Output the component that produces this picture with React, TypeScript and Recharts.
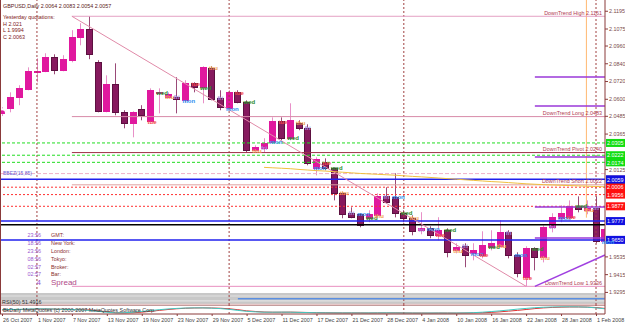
import React from 'react';
import { ComposedChart, Bar, Line, XAxis, YAxis, ReferenceLine, ReferenceArea, LabelList } from 'recharts';

// bar index of each date label on the time axis
const tickBars = [0, 4, 8, 12, 16, 20, 24, 28, 32, 36, 40, 44, 48, 52, 56, 60, 64, 68];
const tickLabels = [
  '26 Oct 2007', '1 Nov 2007', '7 Nov 2007', '13 Nov 2007', '19 Nov 2007', '23 Nov 2007',
  '29 Nov 2007', '5 Dec 2007', '11 Dec 2007', '17 Dec 2007', '21 Dec 2007', '28 Dec 2007',
  '4 Jan 2008', '10 Jan 2008', '16 Jan 2008', '22 Jan 2008', '28 Jan 2008', '1 Feb 2008',
];
// month separators (bar index)
const periodBars = [4, 26, 46, 68];

// weekday tag printed at each bar's open (first bars carry none)
const dayTags = [
  '', '', '', '', '', '', '', '', '', '',
  '', '', '', '', '', '', '', 'tue', 'wed', 'thu',
  'fri', 'mon', 'tue', 'wed', 'thu', 'fri', 'mon', 'tue', 'wed', 'thu',
  'fri', 'mon', 'tue', 'wed', 'thu', 'fri', 'mon', 'tue', 'wed', 'thu',
  'fri', 'mon', 'wed', 'thu', 'fri', 'mon', 'wed', 'thu', 'fri', 'mon',
  'tue', 'wed', 'thu', 'fri', 'mon', 'tue', 'wed', 'thu', 'fri', 'mon',
  'tue', 'wed', 'thu', 'fri', 'mon', 'tue', 'wed', 'thu', 'fri', 'mon',
];

const opens = [
  2.0505, 2.0539, 2.0614, 2.0668, 2.0786, 2.0789, 2.0884, 2.0796, 2.0864, 2.1019,
  2.1073, 2.0850, 2.0519, 2.0702, 2.0512, 2.0438, 2.0533, 2.0451, 2.0647, 2.0614,
  2.0614, 2.0593, 2.0708, 2.0681, 2.0810, 2.0607, 2.0539, 2.0647, 2.0580, 2.0255,
  2.0269, 2.0310, 2.0451, 2.0337, 2.0438, 2.0404, 2.0134, 2.0174, 2.0134, 1.9965,
  1.9830, 1.9823, 1.9796, 1.9816, 1.9944, 1.9938, 1.9830, 1.9796, 1.9715, 1.9728,
  1.9681, 1.9715, 1.9579, 1.9607, 1.9559, 1.9546, 1.9600, 1.9607, 1.9701, 1.9546,
  1.9397, 1.9593, 1.9532, 1.9735, 1.9796, 1.9803, 1.9877, 1.9850, 1.9864, 1.9640,
];
const highs = [
  2.0546, 2.0647, 2.0695, 2.0816, 2.0877, 2.0911, 2.0904, 2.0898, 2.1067, 2.1114,
  2.1161, 2.0864, 2.0762, 2.0843, 2.0526, 2.0519, 2.0560, 2.0674, 2.0674, 2.0647,
  2.0749, 2.0729, 2.0715, 2.0823, 2.0823, 2.0661, 2.0661, 2.0661, 2.0593, 2.0289,
  2.0337, 2.0478, 2.0478, 2.0573, 2.0458, 2.0431, 2.0208, 2.0201, 2.0140, 1.9971,
  1.9870, 1.9830, 1.9850, 1.9965, 2.0005, 2.0100, 1.9850, 1.9816, 1.9837, 1.9742,
  1.9803, 1.9728, 1.9627, 1.9627, 1.9627, 1.9708, 1.9715, 1.9782, 1.9715, 1.9566,
  1.9607, 1.9600, 1.9748, 1.9830, 1.9884, 1.9917, 1.9944, 1.9917, 1.9944, 1.9728,
];
const lows = [
  2.0485, 2.0512, 2.0560, 2.0661, 2.0715, 2.0783, 2.0769, 2.0789, 2.0850, 2.0965,
  2.0871, 2.0512, 2.0512, 2.0492, 2.0404, 2.0343, 2.0458, 2.0445, 2.0505, 2.0607,
  2.0505, 2.0580, 2.0647, 2.0573, 2.0593, 2.0526, 2.0526, 2.0573, 2.0242, 2.0242,
  2.0242, 2.0303, 2.0323, 2.0323, 2.0391, 2.0154, 2.0086, 2.0120, 1.9917, 1.9796,
  1.9796, 1.9735, 1.9769, 1.9796, 1.9897, 1.9802, 1.9769, 1.9681, 1.9688, 1.9661,
  1.9647, 1.9532, 1.9559, 1.9465, 1.9512, 1.9525, 1.9579, 1.9600, 1.9525, 1.9397,
  1.9336, 1.9444, 1.9498, 1.9701, 1.9769, 1.9782, 1.9836, 1.9823, 1.9627, 1.9627,
];
const closes = [
  2.0526, 2.0614, 2.0674, 2.0789, 2.0793, 2.0884, 2.0796, 2.0871, 2.1019, 2.1073,
  2.0904, 2.0519, 2.0702, 2.0512, 2.0438, 2.0512, 2.0492, 2.0661, 2.0652, 2.0634,
  2.0600, 2.0708, 2.0681, 2.0816, 2.0600, 2.0546, 2.0647, 2.0580, 2.0255, 2.0276,
  2.0303, 2.0451, 2.0337, 2.0458, 2.0404, 2.0168, 2.0195, 2.0134, 1.9965, 1.9823,
  1.9802, 1.9748, 1.9823, 1.9944, 1.9904, 1.9830, 1.9796, 1.9708, 1.9728, 1.9681,
  1.9715, 1.9566, 1.9600, 1.9546, 1.9579, 1.9613, 1.9627, 1.9701, 1.9546, 1.9424,
  1.9593, 1.9532, 1.9735, 1.9803, 1.9830, 1.9877, 1.9857, 1.9864, 1.9640, 1.9721,
];

// slow moving average (yellow)
const maLine = [
  null, null, null, null, null, null, null, null, null, null,
  null, null, null, null, null, null, null, null, null, null,
  null, null, null, null, null, null, null, null, null, null,
  2.0140, 2.0137, 2.0134, 2.0131, 2.0126, 2.0122, 2.0118, 2.0115, 2.0111, 2.0107,
  2.0103, 2.0099, 2.0096, 2.0093, 2.0090, 2.0087, 2.0083, 2.0079, 2.0076, 2.0072,
  2.0068, 2.0064, 2.0060, 2.0056, 2.0052, 2.0048, 2.0044, 2.0041, 2.0037, 2.0033,
  2.0029, 2.0026, 2.0023, 2.0021, 2.0019, 2.0017, 2.0015, 2.0013, 2.0011, 2.0009,
];

// lower windows
const rsiLine = [
  null, null, null, null, null, null, null, null, null, null,
  null, null, null, null, null, null, null, null, null, null,
  null, null, null, null, null, null, null, 52, 52, 52,
  52, 52, 52, 52, 52, 52, 52, 52, 52, 52,
  52, 52, 52, 52, 52, 52, 52, 52, 52, 52,
  52, 52, 52, 52, 52, 52, 52, 52, 52, 52,
  52, 52, 52, 52, 52, 52, 52, 52, 52, 52,
];
const oscRed = [
  45, 47, 50, 52, 55, 56, 55, 52, 50, 48,
  45, 35, 25, 15, 12, 14, 20, 30, 40, 50,
  58, 64, 67, 68, 67, 64, 58, 48, 35, 28,
  22, 20, 20, 21, 19, 17, 15, 14, 13, 12,
  12, 12, 11, 12, 12, 13, 12, 11, 11, 10,
  11, 11, 10, 11, 12, 14, 18, 24, 32, 40,
  50, 60, 68, 73, 76, 78, 78, 77, 72, 62,
];
const oscCyan = [
  47, 50, 52, 55, 57, 57, 55, 52, 49, 46,
  40, 30, 20, 12, 14, 20, 28, 38, 48, 56,
  62, 66, 68, 68, 65, 60, 52, 40, 30, 24,
  20, 20, 21, 20, 18, 16, 14, 13, 12, 12,
  12, 11, 12, 12, 13, 12, 11, 11, 10, 11,
  11, 10, 11, 12, 15, 20, 27, 35, 44, 54,
  62, 70, 75, 78, 80, 80, 79, 76, 68, 58,
];

// price levels
const trendHigh = 2.1161;
const trendLong = 2.0483;
const trendPivot = 2.0240;
const trendShort = 2.0022;
const trendLow = 1.9336;
const purpleLevels = [2.0751, 2.0555, 2.0210, 1.9872, 1.9663];
const greenLevels = [2.0305, 2.0222, 2.0174];
const redLevels = [2.0006, 1.9956, 1.9877];
const blueLevels = [2.0059, 1.9777, 1.9650];
const blackLevel = 1.9752;
const bidLevel = 2.0057;
const bandLevel = 2.0098;
const axisTicks = [2.1195, 2.1075, 2.096, 2.084, 2.072, 2.06, 2.0485, 2.0365, 2.0125, 1.9535, 1.9415, 1.9295];

const data = opens.map((o, i) => ({
  i,
  o,
  h: highs[i],
  l: lows[i],
  c: closes[i],
  range: [lows[i], highs[i]],
  ma: maLine[i],
  rsi: rsiLine[i],
  red: oscRed[i],
  cyan: oscCyan[i],
}));

const X_DOMAIN: [number, number] = [-0.229, 69.03];
const FONT = '"Liberation Sans", Arial, sans-serif';
const AXIS = '#8a3a3a';
const SMALL = 5.4;
const DAY_COLORS: Record<string, string> = {
  mon: '#2e90f0',
  tue: '#f04848',
  wed: '#2a8a2a',
  thu: '#f0a050',
  fri: '#a890e0',
};

function Candle(props: any) {
  const { x, y, width, height, payload } = props;
  if (!payload) return null;
  const { o, h, l, c } = payload;
  const cx = Math.round(x + width / 2) + 0.5;
  const k = h > l ? height / (h - l) : 0;
  const py = (v: number) => y + (h - v) * k;
  const up = c >= o;
  const top = Math.round(py(Math.max(o, c)));
  const bot = Math.round(py(Math.min(o, c)));
  return (
    <g>
      <line x1={cx} x2={cx} y1={y} y2={y + height} stroke={up ? '#e890c8' : '#9a4a78'} />
      <rect
        x={cx - 3}
        y={top + 0.5}
        width={6}
        height={Math.max(1, bot - top)}
        fill={up ? '#e0189e' : '#861a5e'}
        stroke={up ? '#e0189e' : '#5c1040'}
      />
    </g>
  );
}

function DayTag(props: any) {
  const { x, y, index } = props;
  const tag = dayTags[index];
  if (!tag) return null;
  return (
    <text x={x - 3} y={y + 2.2} fontSize={6} fontWeight="bold" fill={DAY_COLORS[tag]} fontFamily={FONT}>
      {tag}
    </text>
  );
}

const boxLabel = (value: number, bg: string, fg = '#fff') => (p: any) => {
  const vb = p.viewBox;
  const bx = vb.x + vb.width + 1;
  return (
    <g>
      <rect x={bx} y={vb.y - 4} width={19} height={8} fill={bg} />
      <text x={bx + 1} y={vb.y + 2.2} fontSize={SMALL} fill={fg} fontFamily={FONT}>
        {value.toFixed(4)}
      </text>
    </g>
  );
};

const trendLabel = (text: string) => (p: any) => {
  const vb = p.viewBox;
  return (
    <text x={vb.x + vb.width - 3} y={vb.y - 1.5} fontSize={SMALL} fill="#b03a50" textAnchor="end" fontFamily={FONT}>
      {text}
    </text>
  );
};

function DateTick(props: any) {
  const { x, y, payload } = props;
  const idx = tickBars.indexOf(payload.value);
  return (
    <g>
      <line x1={x + 0.5} x2={x + 0.5} y1={y} y2={y + 2} stroke={AXIS} />
      <text x={x + 1} y={y + 7.5} fontSize={SMALL} fill="#444" fontFamily={FONT}>
        {tickLabels[idx]}
      </text>
    </g>
  );
}

export default function App() {
  const sep = periodBars.map((b) => (
    <ReferenceLine key={'s' + b} x={b} stroke="#a04040" strokeDasharray="2 2" ifOverflow="visible" />
  ));
  return (
    <div style={{ position: 'absolute', left: 0, top: 0, width: 625, height: 324, background: '#fff', overflow: 'hidden', fontFamily: FONT }}>
      <style>{'body{margin:0} .main-chart svg{overflow:visible}'}</style>

      {/* RSI window */}
      <div style={{ position: 'absolute', left: 0, top: 293 }}>
        <ComposedChart width={625} height={12} data={data} margin={{ top: 0, right: 0, left: 0, bottom: 0 }}>
          <XAxis dataKey="i" type="number" domain={X_DOMAIN} hide allowDataOverflow />
          <YAxis orientation="right" width={20} domain={[0, 100]} tick={false} tickLine={false} axisLine={{ stroke: AXIS }} />
          <ReferenceArea y1={0} y2={100} fill="#c8c8c8" fillOpacity={1} stroke="none" />
          <ReferenceArea y1={70} y2={80} fill="#e2e2e2" fillOpacity={1} stroke="none" />
          <ReferenceArea y1={30} y2={40} fill="#e2e2e2" fillOpacity={1} stroke="none" />
          <ReferenceArea y1={0} y2={10} fill="#e8c8c8" fillOpacity={1} stroke="none" />
          {sep}
          <Line dataKey="rsi" stroke="#5a8ee0" strokeWidth={1.5} dot={false} isAnimationActive={false} />
        </ComposedChart>
      </div>

      {/* oscillator window + time axis */}
      <div style={{ position: 'absolute', left: 0, top: 305 }}>
        <ComposedChart width={625} height={19} data={data} margin={{ top: 0, right: 0, left: 0, bottom: 0 }}>
          <XAxis
            dataKey="i"
            type="number"
            domain={X_DOMAIN}
            allowDataOverflow
            ticks={tickBars}
            interval={0}
            height={10}
            tickSize={0}
            tickMargin={0}
            tickLine={false}
            axisLine={{ stroke: AXIS }}
            tick={<DateTick />}
          />
          <YAxis orientation="right" width={20} domain={[0, 100]} tick={false} tickLine={false} axisLine={{ stroke: AXIS }} />
          <ReferenceLine y={100} stroke={AXIS} />
          {sep}
          <Line dataKey="red" stroke="#e03030" dot={false} isAnimationActive={false} />
          <Line dataKey="cyan" stroke="#40c8c0" dot={false} isAnimationActive={false} />
        </ComposedChart>
      </div>

      {/* price window */}
      <div className="main-chart" style={{ position: 'absolute', left: 0, top: 0 }}>
        <ComposedChart width={625} height={293} data={data} margin={{ top: 0, right: 0, left: 0, bottom: 0 }}>
          <XAxis dataKey="i" type="number" domain={X_DOMAIN} hide allowDataOverflow />
          <YAxis
            orientation="right"
            width={20}
            domain={[1.9291, 2.1271]}
            ticks={axisTicks}
            allowDataOverflow
            interval={0}
            tickSize={3}
            tickMargin={1}
            axisLine={{ stroke: AXIS }}
            tickLine={{ stroke: AXIS }}
            tick={{ fontSize: SMALL, fill: '#7a4a4a', fontFamily: FONT }}
            tickFormatter={(v: number) => v.toFixed(4)}
          />
          {sep}
          <ReferenceLine stroke="#ffb870" ifOverflow="visible" segment={[{ x: 66.9, y: 2.1271 }, { x: 66.9, y: 1.98 }]} />
          <ReferenceLine y={bandLevel} stroke="#f0b0c8" strokeDasharray="4 2" />
          {greenLevels.map((v) => (
            <ReferenceLine key={'g' + v} y={v} stroke="#22dd22" strokeDasharray="3 2" label={{ content: boxLabel(v, '#11dd11') }} />
          ))}
          {redLevels.map((v) => (
            <ReferenceLine key={'r' + v} y={v} stroke="#ff3030" strokeDasharray="2 2" label={{ content: boxLabel(v, '#ff1010') }} />
          ))}
          <ReferenceLine y={bidLevel} stroke="none" label={{ content: boxLabel(bidLevel, '#6a1040') }} />
          {blueLevels.map((v) => (
            <ReferenceLine key={'b' + v} y={v} stroke="#2020ee" strokeWidth={1.5} label={{ content: boxLabel(v, '#1010e0') }} />
          ))}
          <ReferenceLine y={blackLevel} stroke="#000" strokeWidth={1.5} />
          <ReferenceLine segment={[{ x: 8, y: trendHigh }, { x: 69.03, y: trendHigh }]} stroke="#e4a0c4" label={{ content: trendLabel('DownTrend High  2.1161') }} />
          <ReferenceLine segment={[{ x: 8, y: trendLong }, { x: 69.03, y: trendLong }]} stroke="#d88aa8" label={{ content: trendLabel('DownTrend Long  2.0483') }} />
          <ReferenceLine segment={[{ x: 8, y: trendPivot }, { x: 69.03, y: trendPivot }]} stroke="#a03048" label={{ content: trendLabel('DownTrend Pivot  2.0240') }} />
          <ReferenceLine segment={[{ x: 8, y: trendShort }, { x: 69.03, y: trendShort }]} stroke="#e0a0a0" label={{ content: trendLabel('DownTrend Short  2.0022') }} />
          <ReferenceLine segment={[{ x: 8, y: trendLow }, { x: 69.03, y: trendLow }]} stroke="#e890c0" label={{ content: trendLabel('DownTrend Low  1.9336') }} />
          <ReferenceLine segment={[{ x: 8, y: trendHigh }, { x: 60, y: trendLow }]} stroke="#e08aa8" />
          <ReferenceLine segment={[{ x: 61, y: trendLow }, { x: 69.03, y: 1.9548 }]} stroke="#a040e0" strokeWidth={1.5} />
          {purpleLevels.map((v) => (
            <ReferenceLine key={'p' + v} segment={[{ x: 61, y: v }, { x: 69.03, y: v }]} stroke="#9a38d8" strokeWidth={1.5} />
          ))}
          <Line dataKey="ma" stroke="#f0c040" dot={false} isAnimationActive={false} connectNulls={false} />
          <Bar dataKey="range" barSize={6} shape={Candle} isAnimationActive={false} />
          <Line dataKey="o" stroke="none" dot={false} isAnimationActive={false}>
            <LabelList dataKey="o" content={DayTag} />
          </Line>
        </ComposedChart>
      </div>

      <svg width={625} height={324} style={{ position: 'absolute', left: 0, top: 0, pointerEvents: 'none' }} fontFamily={FONT}>
        <line x1={0.5} x2={0.5} y1={0} y2={314} stroke={AXIS} />
        <text x={3} y={7.5} fontSize={SMALL} fill="#5a2020">GBPUSD,Daily  2.0064 2.0083 2.0054 2.0057</text>
        <text x={3} y={18.5} fontSize={SMALL} fill="#802020">Yesterday quotations:</text>
        <text x={3} y={25.5} fontSize={SMALL} fill="#802020">H 2.021</text>
        <text x={3} y={32} fontSize={SMALL} fill="#802020">L 1.9994</text>
        <text x={3} y={38.5} fontSize={SMALL} fill="#802020">C 2.0063</text>

        <text x={3} y={175} fontSize={5} fill="#6a5ad0">BBEZ(15,85)</text>

        <text x={41} y={237} fontSize={SMALL} fill="#9a5ad0" textAnchor="end">23:56</text>
        <text x={51} y={237} fontSize={SMALL} fill="#8a3030">GMT:</text>
        <text x={41} y={245} fontSize={SMALL} fill="#9a5ad0" textAnchor="end">18:56</text>
        <text x={51} y={245} fontSize={SMALL} fill="#8a3030">New York:</text>
        <text x={41} y={253} fontSize={SMALL} fill="#9a5ad0" textAnchor="end">23:56</text>
        <text x={51} y={253} fontSize={SMALL} fill="#8a3030">London:</text>
        <text x={41} y={261} fontSize={SMALL} fill="#9a5ad0" textAnchor="end">08:56</text>
        <text x={51} y={261} fontSize={SMALL} fill="#8a3030">Tokyo:</text>
        <text x={41} y={268.5} fontSize={SMALL} fill="#9a5ad0" textAnchor="end">02:57</text>
        <text x={51} y={268.5} fontSize={SMALL} fill="#8a3030">Broker:</text>
        <text x={41} y={276} fontSize={SMALL} fill="#9a5ad0" textAnchor="end">02:57</text>
        <text x={51} y={276} fontSize={SMALL} fill="#8a3030">Bar:</text>
        <text x={41} y={285} fontSize={8} fill="#9a5ad0" textAnchor="end">4</text>
        <text x={51} y={285} fontSize={8} fill="#b04a88">Spread</text>

        <text x={2} y={303.5} fontSize={SMALL} fill="#333">RSI(50) 51.4916</text>
        <text x={3} y={311.5} fontSize={SMALL} fill="#333">BkDaily MetaQuotes (c) 2000-2007 MetaQuotes Software Corp.</text>
      </svg>
    </div>
  );
}
